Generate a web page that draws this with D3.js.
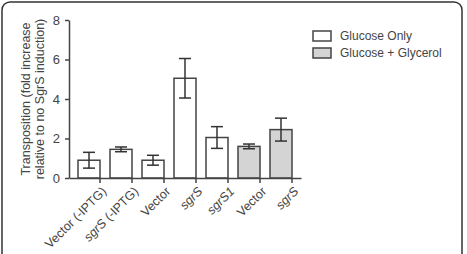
<!DOCTYPE html>
<html lang="en">
<head>
    <meta charset="UTF-8">
    <title>Transposition bars</title>
    <script src="https://d3js.org/d3.v7.min.js"></script>
    <style>
        body { margin: 0; background: #fff; }
        svg { font-family: "Liberation Sans", Arial, sans-serif; }
        .axis path, .axis line { stroke: #444; stroke-width: 1.5px; }
        .axis text { fill: #444; font-size: 12.5px; }
    </style>
</head>
<body>
<svg></svg>
<script>
    // data
    var categories = ["Vector (-IPTG)", "sgrS (-IPTG)", "Vector", "sgrS", "sgrS1", "Vector", "sgrS"];
    var italicPart = ["", "sgrS", "", "sgrS", "sgrS1", "", "sgrS"];
    var groups = ["Glucose Only", "Glucose Only", "Glucose Only", "Glucose Only", "Glucose Only",
                  "Glucose + Glycerol", "Glucose + Glycerol"];
    var means = [0.9, 1.45, 0.9, 5.05, 2.05, 1.6, 2.45];
    var errors = [0.4, 0.12, 0.25, 1.0, 0.55, 0.12, 0.58];
    var yTicks = [0, 2, 4, 6, 8];
    var legendLabels = ["Glucose Only", "Glucose + Glycerol"];

    var width = 467, height = 254;
    var svg = d3.select("svg").attr("width", width).attr("height", height);

    // rounded frame round the figure
    svg.append("rect")
        .attr("x", 2).attr("y", 2)
        .attr("width", 460).attr("height", 270)
        .attr("rx", 8)
        .style("fill", "none").style("stroke", "#333").style("stroke-width", 1.5);

    var x = d3.scaleBand()
        .domain(d3.range(categories.length))
        .range([69, 301])
        .paddingInner(0.3125)
        .paddingOuter(0.28125);

    var y = d3.scaleLinear().domain([0, 8]).range([178, 20]);

    var color = d3.scaleOrdinal().domain(legendLabels).range(["#ffffff", "#d4d4d4"]);

    // bars
    svg.selectAll(".bar")
        .data(means)
        .enter()
        .append("rect")
        .classed("bar", true)
        .attr("x", function (d, i) { return x(i); })
        .attr("y", function (d) { return y(d); })
        .attr("width", x.bandwidth())
        .attr("height", function (d) { return y(0) - y(d); })
        .style("fill", function (d, i) { return color(groups[i]); })
        .style("stroke", "#444")
        .style("stroke-width", 1.5);

    // error bars
    var err = svg.selectAll(".err")
        .data(means)
        .enter()
        .append("g")
        .classed("err", true)
        .style("stroke", "#333")
        .style("stroke-width", 1.5);
    err.append("line")
        .attr("x1", function (d, i) { return x(i) + x.bandwidth() / 2; })
        .attr("x2", function (d, i) { return x(i) + x.bandwidth() / 2; })
        .attr("y1", function (d, i) { return y(d - errors[i]); })
        .attr("y2", function (d, i) { return y(d + errors[i]); });
    [1, -1].forEach(function (s) {
        err.append("line")
            .attr("x1", function (d, i) { return x(i) + x.bandwidth() / 2 - 6; })
            .attr("x2", function (d, i) { return x(i) + x.bandwidth() / 2 + 6; })
            .attr("y1", function (d, i) { return y(d + s * errors[i]); })
            .attr("y2", function (d, i) { return y(d + s * errors[i]); });
    });

    // y axis
    var yAxis = d3.axisLeft(y).tickValues(yTicks).tickSize(4).tickSizeOuter(0).tickPadding(5);
    var gy = svg.append("g").classed("axis", true)
        .attr("transform", "translate(69,0)")
        .call(yAxis);
    gy.selectAll("text").style("font-size", "13px");

    // x axis
    var xAxis = d3.axisBottom(x).tickSize(5).tickSizeOuter(0).tickFormat(function () { return ""; });
    var gx = svg.append("g").classed("axis", true)
        .attr("transform", "translate(0,178)")
        .call(xAxis);

    // rotated category labels with italic gene names
    gx.selectAll(".tick").each(function (d, i) {
        var t = d3.select(this).append("text")
            .attr("transform", "translate(" + (x.bandwidth() / 2 + 4) + ",11) rotate(-45)")
            .attr("text-anchor", "end")
            .attr("dy", "0.35em")
            .attr("fill", "#444");
        var label = categories[i];
        var it = italicPart[i];
        if (it && label.indexOf(it) === 0) {
            t.append("tspan").style("font-style", "italic").text(it);
            if (label.length > it.length) t.append("tspan").text(label.slice(it.length));
        } else {
            t.text(label);
        }
    });
    gx.selectAll(".tick line").attr("transform", "translate(" + (x.bandwidth() / 2) + ",0)");

    // y title
    var title = svg.append("text")
        .attr("transform", "translate(32,99) rotate(-90)")
        .attr("text-anchor", "middle")
        .style("font-size", "12.5px")
        .attr("fill", "#444");
    title.append("tspan").attr("x", 0).attr("dy", "-0.2em").text("Transposition (fold increase");
    title.append("tspan").attr("x", 0).attr("dy", "1.15em").text("relative to no SgrS induction)");

    // legend
    var legend = svg.selectAll(".legend")
        .data(legendLabels)
        .enter()
        .append("g")
        .classed("legend", true)
        .attr("transform", function (d, i) { return "translate(313," + (31 + i * 17) + ")"; });
    legend.append("rect")
        .attr("width", 18).attr("height", 10)
        .style("fill", function (d) { return color(d); })
        .style("stroke", "#444").style("stroke-width", 1.5);
    legend.append("text")
        .attr("x", 27).attr("y", 5).attr("dy", "0.35em")
        .style("font-size", "12px").attr("fill", "#444")
        .text(function (d) { return d; });
</script>
</body>
</html>
